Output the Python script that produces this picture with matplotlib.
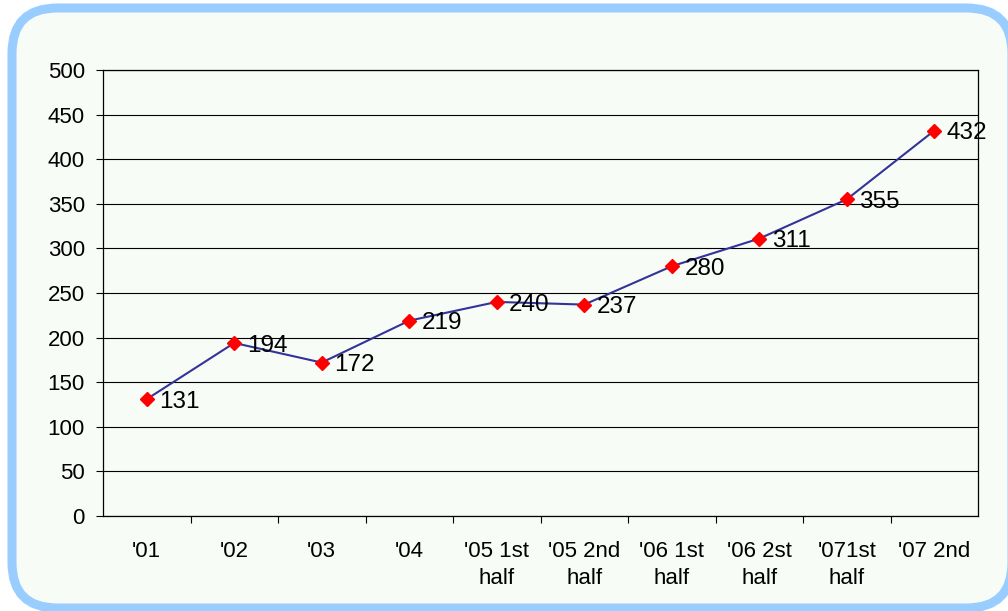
import matplotlib
matplotlib.use("Agg")
import matplotlib.pyplot as plt
from matplotlib.patches import FancyBboxPatch

categories = ["'01", "'02", "'03", "'04", "'05 1st\nhalf", "'05 2nd\nhalf",
              "'06 1st\nhalf", "'06 2st\nhalf", "'071st\nhalf", "'07 2nd"]
values = [131, 194, 172, 219, 240, 237, 280, 311, 355, 432]
yticks = [0, 50, 100, 150, 200, 250, 300, 350, 400, 450, 500]

plt.rcParams['font.family'] = ['Liberation Sans', 'DejaVu Sans']

W, H = 1008, 611
fig = plt.figure(figsize=(W / 100, H / 100), dpi=100)
bg = '#F7FCF7'
fig.patch.set_facecolor('white')

# rounded frame
frame = FancyBboxPatch((12 / W, 1 - 608 / H), (1012 - 12) / W, (608 - 8) / H,
                       boxstyle="round,pad=0,rounding_size=0.045",
                       transform=fig.transFigure, facecolor=bg,
                       edgecolor='#99CCFF', linewidth=6.5, zorder=-5,
                       mutation_aspect=W / H)
fig.patches.append(frame)

left, right, top, bottom = 103, 978, 70, 516
ax = fig.add_axes([left / W, 1 - bottom / H, (right - left) / W, (bottom - top) / H])
ax.set_facecolor('none')

x = list(range(len(categories)))
ax.plot(x, values, color='#333399', linewidth=1.5, marker='D', markersize=7,
        markerfacecolor='red', markeredgecolor='red', zorder=3, clip_on=False)
for xi, v in zip(x, values):
    ax.annotate(str(v), (xi, v), xytext=(9, -2), textcoords='offset points',
                ha='left', va='center', fontsize=17.5, color='black')

ax.set_xlim(-0.5, len(categories) - 0.5)
ax.set_ylim(0, 500)
ax.set_yticks(yticks)
ax.set_yticklabels([str(t) for t in yticks], fontsize=16)
ax.yaxis.grid(True, color='black', linewidth=0.8)
ax.set_axisbelow(True)

ax.set_xticks([i + 0.5 for i in range(len(categories) - 1)])
ax.set_xticklabels([])
ax.set_xticks(x, minor=True)
ax.set_xticklabels(categories, minor=True, fontsize=16, linespacing=1.4, va='top')
ax.tick_params(axis='x', which='minor', length=0, pad=18)
ax.tick_params(axis='x', which='major', length=5, direction='out', width=0.8)
ax.tick_params(axis='y', length=5, direction='out', width=0.8, pad=8)
for s in ax.spines.values():
    s.set_color('black')
    s.set_linewidth(0.9)

fig.savefig('out.png', dpi=100, facecolor=fig.get_facecolor())
